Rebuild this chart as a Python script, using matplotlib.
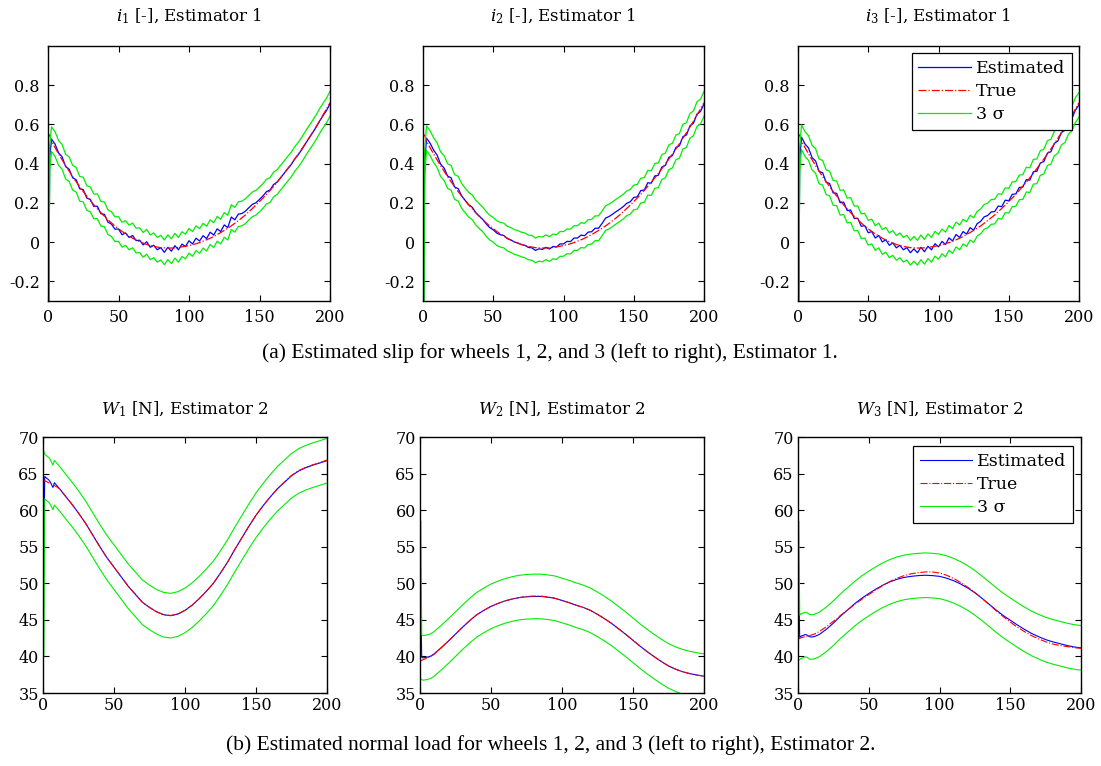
import numpy as np
import matplotlib
matplotlib.use("Agg")
import matplotlib.pyplot as plt

# ---------------- data ----------------
# time grid for slip plots
t_slip = [0, 0.6, 1.2] + [2.5 * k for k in range(1, 81)]

slip_true = [0.55, 0.548, 0.545, 0.515, 0.482, 0.45, 0.42, 0.39, 0.362, 0.334, 0.308, 0.283,
             0.258, 0.235, 0.212, 0.19, 0.17, 0.15, 0.132, 0.114, 0.098, 0.082,
             0.068, 0.055, 0.042, 0.031, 0.02, 0.011, 0.002, -0.005, -0.012, -0.017,
             -0.022, -0.025, -0.028, -0.029, -0.03, -0.03, -0.029, -0.027, -0.024, -0.021,
             -0.017, -0.013, -0.008, -0.002, 0.005, 0.012, 0.020, 0.029, 0.039, 0.049,
             0.060, 0.071, 0.083, 0.096, 0.110, 0.124, 0.139, 0.155, 0.172, 0.189,
             0.207, 0.225, 0.244, 0.264, 0.285, 0.306, 0.328, 0.351, 0.375, 0.399,
             0.424, 0.449, 0.475, 0.502, 0.530, 0.558, 0.587, 0.617, 0.648, 0.679, 0.711]

slip_est_1 = [-0.30, -0.30, 0.43, 0.525, 0.50, 0.455, 0.435, 0.385, 0.372, 0.328, 0.318, 0.272,
              0.268, 0.225, 0.218, 0.182, 0.183, 0.145, 0.142, 0.102, 0.092, 0.066,
              0.067, 0.038, 0.047, 0.024, 0.034, 0.008, 0.01, -0.014, 0.002, -0.026,
              -0.016, -0.039, -0.028, -0.052, -0.026, -0.046, -0.018, -0.039, -0.01, -0.022,
              0.007, -0.009, 0.02, 0.006, 0.033, 0.018, 0.051, 0.036, 0.068, 0.054,
              0.088, 0.074, 0.128, 0.114, 0.143, 0.146, 0.158, 0.176, 0.193, 0.201,
              0.218, 0.236, 0.258, 0.266, 0.294, 0.306, 0.329, 0.351, 0.374, 0.396,
              0.424, 0.446, 0.472, 0.501, 0.529, 0.556, 0.584, 0.616, 0.644, 0.671, 0.705]

slip_est_2 = [-0.30, -0.30, 0.40, 0.53, 0.505, 0.47, 0.444, 0.398, 0.378, 0.337, 0.328, 0.281,
              0.273, 0.236, 0.213, 0.191, 0.178, 0.151, 0.133, 0.116, 0.093, 0.074,
              0.063, 0.046, 0.038, 0.034, 0.018, 0.011, 0.001, -0.004, -0.012, -0.016,
              -0.027, -0.029, -0.042, -0.034, -0.037, -0.026, -0.035, -0.022, -0.025, -0.009,
              -0.009, 0.004, 0.003, 0.021, 0.021, 0.036, 0.033, 0.051, 0.053, 0.071,
              0.071, 0.096, 0.123, 0.131, 0.143, 0.156, 0.168, 0.181, 0.198, 0.206,
              0.228, 0.231, 0.263, 0.266, 0.303, 0.301, 0.338, 0.341, 0.383, 0.391,
              0.433, 0.441, 0.483, 0.491, 0.538, 0.546, 0.593, 0.606, 0.653, 0.666, 0.705]

slip_est_3 = [-0.30, -0.30, 0.42, 0.535, 0.50, 0.48, 0.431, 0.414, 0.361, 0.354, 0.306, 0.299,
              0.251, 0.249, 0.201, 0.204, 0.161, 0.164, 0.121, 0.122, 0.081, 0.084,
              0.048, 0.054, 0.021, 0.034, 0.001, 0.012, -0.016, -0.004, -0.029, -0.016,
              -0.039, -0.028, -0.054, -0.034, -0.054, -0.026, -0.049, -0.021, -0.039, -0.008,
              -0.024, 0.004, -0.012, 0.022, 0.006, 0.039, 0.024, 0.054, 0.041, 0.074,
              0.061, 0.094, 0.106, 0.129, 0.136, 0.154, 0.156, 0.184, 0.181, 0.214,
              0.211, 0.244, 0.246, 0.279, 0.281, 0.319, 0.316, 0.359, 0.361, 0.404,
              0.411, 0.454, 0.461, 0.504, 0.516, 0.559, 0.571, 0.614, 0.631, 0.674, 0.70]

slip_three_sigma_start = [0.0, 0.0]
slip_three_sigma = 0.063

# time grid for normal load plots
t_load = [0, 0.6, 1.2, 2, 4, 5, 6, 7, 8, 10, 12, 15] + [5 * k for k in range(4, 41)]

load_est_1 = [54.0, 54.0, 64.6, 64.45, 64.15, 63.9, 63.5, 63.1, 63.75, 63.3, 62.85, 62.1,
              60.9, 59.6, 58.2, 56.6, 55.0, 53.5, 52.2, 50.9, 49.6, 48.5, 47.4,
              46.7, 46.1, 45.7, 45.57, 45.8, 46.3, 47.0, 47.9, 48.9, 50.0, 51.4,
              52.9, 54.6, 56.2, 57.8, 59.3, 60.6, 61.8, 62.9, 63.8, 64.7, 65.35,
              65.8, 66.15, 66.45, 66.76]
load_true_1 = [64.1, 64.07, 64.05, 63.95, 63.75, 63.65, 63.55, 63.45, 63.35, 63.15, 62.85, 62.1,
               60.9, 59.6, 58.2, 56.6, 55.0, 53.5, 52.2, 50.9, 49.6, 48.5, 47.4,
               46.7, 46.1, 45.7, 45.6, 45.8, 46.3, 47.0, 47.9, 48.9, 50.0, 51.4,
               52.9, 54.6, 56.2, 57.8, 59.3, 60.6, 61.8, 62.9, 63.85, 64.75, 65.4,
               65.85, 66.2, 66.5, 66.85]

load_est_2 = [47.7, 47.7, 39.9, 39.8, 39.85, 39.9, 39.95, 40.0, 40.1, 40.35, 40.7, 41.2,
              42.1, 43.05, 44.0, 44.9, 45.7, 46.3, 46.85, 47.25, 47.6, 47.85, 48.05,
              48.15, 48.2, 48.2, 48.1, 47.95, 47.65, 47.35, 47.0, 46.7, 46.3, 45.75,
              45.15, 44.5, 43.75, 43.0, 42.2, 41.4, 40.65, 39.95, 39.3, 38.7, 38.25,
              37.9, 37.65, 37.45, 37.3]
load_true_2 = [39.4, 39.42, 39.45, 39.55, 39.7, 39.75, 39.85, 39.95, 40.05, 40.3, 40.65, 41.2,
               42.1, 43.05, 44.0, 44.9, 45.7, 46.3, 46.85, 47.25, 47.6, 47.85, 48.05,
               48.2, 48.25, 48.25, 48.15, 47.95, 47.65, 47.35, 47.0, 46.7, 46.3, 45.75,
               45.15, 44.5, 43.75, 43.0, 42.2, 41.4, 40.65, 39.95, 39.3, 38.7, 38.25,
               37.9, 37.65, 37.45, 37.3]

load_est_3 = [49.0, 49.0, 42.6, 42.75, 42.9, 43.0, 42.95, 42.85, 42.7, 42.65, 42.75, 43.0,
              43.7, 44.55, 45.5, 46.35, 47.2, 47.95, 48.6, 49.2, 49.75, 50.2, 50.55,
              50.8, 50.95, 51.05, 51.1, 51.05, 50.95, 50.7, 50.35, 49.9, 49.35, 48.7,
              47.95, 47.15, 46.35, 45.6, 44.95, 44.3, 43.7, 43.15, 42.7, 42.3, 42.0,
              41.75, 41.5, 41.3, 41.17]
load_true_3 = [42.4, 42.42, 42.45, 42.55, 42.65, 42.7, 42.75, 42.8, 42.85, 42.95, 43.1, 43.4,
               44.05, 44.8, 45.6, 46.35, 47.1, 47.8, 48.45, 49.1, 49.7, 50.25, 50.7,
               51.05, 51.3, 51.45, 51.55, 51.55, 51.4, 51.1, 50.65, 50.1, 49.45, 48.75,
               47.95, 47.1, 46.25, 45.45, 44.7, 44.0, 43.4, 42.85, 42.4, 42.0, 41.7,
               41.5, 41.35, 41.2, 41.1]

load_three_sigma_start = [14.0, 10.8, 9.5]
load_three_sigma = 3.05

slip_titles = [r"$\mathit{i}_{\mathit{1}}$ [-], Estimator 1",
               r"$\mathit{i}_{\mathit{2}}$ [-], Estimator 1",
               r"$\mathit{i}_{\mathit{3}}$ [-], Estimator 1"]
load_titles = [r"$\mathit{W}_{\mathit{1}}$ [N], Estimator 2",
               r"$\mathit{W}_{\mathit{2}}$ [N], Estimator 2",
               r"$\mathit{W}_{\mathit{3}}$ [N], Estimator 2"]
legend_labels = ["Estimated", "True", "3 σ"]
x_ticks = [0, 50, 100, 150, 200]
slip_yticks = [-0.2, 0, 0.2, 0.4, 0.6, 0.8]
slip_yticklabels = ["-0.2", "0", "0.2", "0.4", "0.6", "0.8"]
load_yticks = [35, 40, 45, 50, 55, 60, 65, 70]
caption_a = "(a) Estimated slip for wheels 1, 2, and 3 (left to right), Estimator 1."
caption_b = "(b) Estimated normal load for wheels 1, 2, and 3 (left to right), Estimator 2."

# ---------------- style ----------------
plt.rcParams['font.family'] = ['DejaVu Serif']
plt.rcParams['mathtext.fontset'] = 'dejavuserif'

W, H = 1101, 766
fig = plt.figure(figsize=(W / 100, H / 100), dpi=100)

def px_axes(x0, y0, x1, y1):
    return fig.add_axes([x0 / W, 1 - y1 / H, (x1 - x0) / W, (y1 - y0) / H])

top_boxes = [(48, 46, 330, 301), (423, 46, 704, 301), (798, 46, 1079, 301)]
bot_boxes = [(43, 437, 327, 693), (420, 437, 704, 693), (798, 437, 1081, 693)]

BLUE, RED, GREEN = '#0000ff', '#ff0000', '#00ee00'

def style_axes(ax):
    for s in ax.spines.values():
        s.set_linewidth(1.0)
        s.set_color('black')
    ax.tick_params(direction='in', top=True, right=True, length=4, width=0.8,
                   labelsize=11.5, pad=6)
    ax.set_xlim(0, 200)
    ax.set_xticks(x_ticks)

def add_legend(ax, handles, anchor):
    leg = ax.legend(handles=handles, loc='upper right',
                    bbox_to_anchor=anchor, borderaxespad=0,
                    fontsize=12.5, fancybox=False, framealpha=1,
                    edgecolor='black', handlelength=3.0, handletextpad=0.3,
                    borderpad=0.4, labelspacing=0.35)
    leg.get_frame().set_linewidth(0.9)

slip_ests = [slip_est_1, slip_est_2, slip_est_3]
for i, box in enumerate(top_boxes):
    ax = px_axes(*box)
    t = np.array(t_slip)
    est = np.array(slip_ests[i])
    tru = np.array(slip_true)
    sig = np.full(len(t), slip_three_sigma)
    sig[:2] = slip_three_sigma_start
    LW = 0.9
    l1, = ax.plot(t, est, color=BLUE, lw=LW, label=legend_labels[0])
    l2, = ax.plot(t, tru, color=RED, lw=LW, ls='-.', label=legend_labels[1])
    l3, = ax.plot(t, est + sig, color=GREEN, lw=LW, label=legend_labels[2])
    ax.plot(t, est - sig, color=GREEN, lw=LW)
    style_axes(ax)
    ax.set_ylim(-0.3, 1.0)
    ax.set_yticks(slip_yticks)
    ax.set_yticklabels(slip_yticklabels)
    ax.set_title(slip_titles[i], fontsize=12, pad=18)
    if i == 2:
        add_legend(ax, [l1, l2, l3], (0.975, 0.973))

load_ests = [load_est_1, load_est_2, load_est_3]
load_trues = [load_true_1, load_true_2, load_true_3]
for i, box in enumerate(bot_boxes):
    ax = px_axes(*box)
    t = np.array(t_load)
    est = np.array(load_ests[i])
    tru = np.array(load_trues[i])
    sig = np.full(len(t), load_three_sigma)
    sig[:2] = load_three_sigma_start[i]
    LW = 0.8
    l1, = ax.plot(t, est, color=BLUE, lw=LW, label=legend_labels[0])
    l2, = ax.plot(t, tru, color=RED, lw=LW, ls='-.', label=legend_labels[1])
    l3, = ax.plot(t, est + sig, color=GREEN, lw=LW, label=legend_labels[2])
    ax.plot(t, est - sig, color=GREEN, lw=LW)
    style_axes(ax)
    ax.set_ylim(35, 70)
    ax.set_yticks(load_yticks)
    ax.tick_params(axis='y', pad=3)
    ax.tick_params(axis='x', pad=3)
    ax.set_title(load_titles[i], fontsize=12, pad=16)
    if i == 2:
        add_legend(ax, [l1, l2, l3], (0.972, 0.965))

fig.text(550 / W, 1 - 353 / H, caption_a, ha='center', va='center',
         family='Liberation Serif', fontsize=15.5)
fig.text(551 / W, 1 - 745 / H, caption_b, ha='center', va='center',
         family='Liberation Serif', fontsize=15.5)

fig.savefig("out.png", dpi=100)
